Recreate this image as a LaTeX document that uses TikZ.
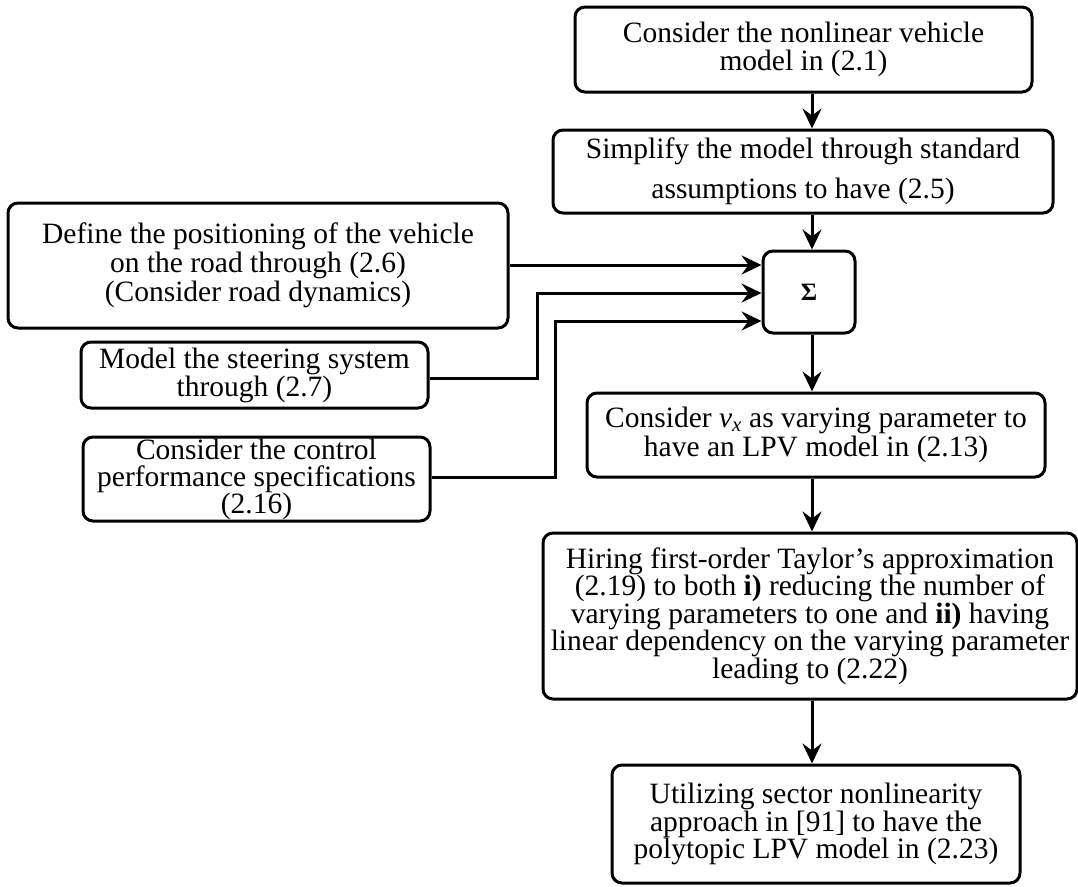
\documentclass[tikz,border=0pt]{standalone}
\usepackage{fontspec}
\setmainfont{Liberation Serif}
\usetikzlibrary{arrows.meta}
\begin{document}
\begin{tikzpicture}[x=1pt,y=-1pt,
  stepbox/.style={draw=black, line width=3pt, rounded corners=10pt, align=center,
    inner sep=0pt, font=\fontsize{29.5}{27.5}\selectfont},
  arr/.style={line width=3pt, -{Stealth[length=20pt,width=19pt,inset=7pt]}}]
\useasboundingbox (0,0) rectangle (1078,886);

% main chain
\node[stepbox, minimum width=457pt, minimum height=85pt, font=\fontsize{29.5}{28}\selectfont] (top) at (803.5,49.5)
  {Consider the nonlinear vehicle\\model in (2.1)};
\node[stepbox, minimum width=500pt, minimum height=83pt, font=\fontsize{29.5}{40}\selectfont] (simp) at (803,171.5)
  {Simplify the model through standard\\assumptions to have (2.5)};
\node[stepbox, minimum width=92pt, minimum height=82pt, font=\fontsize{25}{27}\selectfont] (sigma) at (809,292)
  {\textbf{Σ}};
\node[stepbox, minimum width=458pt, minimum height=84pt, font=\fontsize{29.5}{29.5}\selectfont] (vx) at (816,435)
  {Consider \textit{v}\textsubscript{\textit{x}} as varying parameter to\\have an LPV model in (2.13)};
\node[stepbox, minimum width=534pt, minimum height=166pt] (hire) at (810,616)
  {Hiring first-order Taylor’s approximation\\(2.19) to both \textbf{i)} reducing the number of\\varying parameters to one and \textbf{ii)} having\\linear dependency on the varying parameter\\leading to (2.22)};
\node[stepbox, minimum width=408pt, minimum height=118pt] (util) at (816,824)
  {Utilizing sector nonlinearity\\approach in [91] to have the\\polytopic LPV model in (2.23)};

% side inputs
\node[stepbox, minimum width=500pt, minimum height=125pt, font=\fontsize{29.5}{29}\selectfont] (road) at (258,265.5)
  {Define the positioning of the vehicle\\on the road through (2.6)\\(Consider road dynamics)};
\node[stepbox, minimum width=347pt, minimum height=66pt, font=\fontsize{29.5}{28}\selectfont] (steer) at (254.5,375)
  {Model the steering system\\through (2.7)};
\node[stepbox, minimum width=347pt, minimum height=84pt, font=\fontsize{29.5}{27}\selectfont] (perf) at (256.5,479)
  {Consider the control\\performance specifications\\(2.16)};

% vertical flow
\coordinate (col) at (812,0);
\draw[arr] (top.south -| col) -- (simp.north -| col);
\draw[arr] (simp.south -| col) -- (sigma.north -| col);
\draw[arr] (sigma.south -| col) -- (vx.north -| col);
\draw[arr] (vx.south -| col) -- (hire.north -| col);
\draw[arr] (hire.south -| col) -- (util.north -| col);

% inputs to the summation block
\coordinate (in1) at (0,265);
\coordinate (in2) at (0,293);
\coordinate (in3) at (0,321);
\coordinate (bend2) at (537,0);
\coordinate (bend3) at (555,0);
\draw[arr] (road.east |- in1) -- (sigma.west |- in1);
\draw[arr] (steer.east |- 0,378) -- (bend2 |- 0,378) -- (bend2 |- in2) -- (sigma.west |- in2);
\draw[arr] (perf.east |- 0,477) -- (bend3 |- 0,477) -- (bend3 |- in3) -- (sigma.west |- in3);
\end{tikzpicture}
\end{document}
